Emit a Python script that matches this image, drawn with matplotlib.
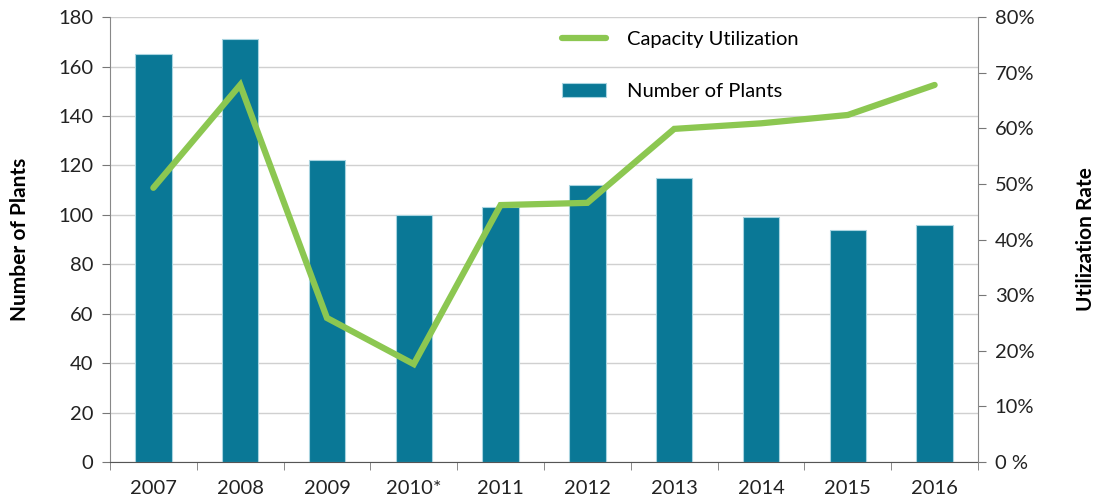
import numpy as np
import matplotlib
matplotlib.use('Agg')
import matplotlib.pyplot as plt
from matplotlib.ticker import FixedLocator, NullFormatter

plt.rcParams['font.family'] = ['Lato', 'DejaVu Sans']

years = ['2007', '2008', '2009', '2010*', '2011', '2012', '2013', '2014', '2015', '2016']
plants = [165, 171, 122, 100, 103, 112, 115, 99, 94, 96]
utilization = [49.3, 67.8, 25.9, 17.6, 46.2, 46.6, 59.9, 60.9, 62.4, 67.8]

bar_color = '#0a7896'
line_color = '#8cc751'

fig = plt.figure(figsize=(10.94, 5.03), dpi=100)
ax = fig.add_axes([0.1005, 0.0815, 0.7935, 0.8845])
x = np.arange(len(years))

ax.bar(x, plants, width=0.42, color=bar_color, edgecolor='#a8d4e0', linewidth=0.8,
       label='Number of Plants', zorder=2)
ax.set_xlim(-0.5, len(years) - 0.5)
ax.set_ylim(0, 180)
ax.set_yticks(range(0, 181, 20))
ax.grid(axis='y', color='#d0d0d0', linewidth=1.0, zorder=0)
ax.set_axisbelow(True)

ax.set_xticks(x)
ax.set_xticklabels(years)
ax.tick_params(axis='x', length=0, pad=13, labelsize=14.5, labelcolor='#222222')
ax.xaxis.set_minor_locator(FixedLocator(np.arange(-0.5, len(years), 1.0)))
ax.xaxis.set_minor_formatter(NullFormatter())
ax.tick_params(axis='x', which='minor', length=6, color='#777777', direction='out')
ax.tick_params(axis='y', length=6, color='#777777', labelsize=14.5, pad=6,
               labelcolor='#222222')

for s in ['top', 'right']:
    ax.spines[s].set_visible(False)
ax.spines['left'].set_color('#888888')
ax.spines['bottom'].set_color('#555555')
ax.set_ylabel('Number of Plants', fontsize=15, fontweight='bold', labelpad=20)

ax2 = ax.twinx()
ax2.plot(x, utilization, color=line_color, linewidth=4.5, solid_capstyle='round',
         solid_joinstyle='miter', label='Capacity Utilization', zorder=3)
ax2.set_ylim(0, 80)
ax2.set_yticks(range(0, 81, 10))
ax2.set_yticklabels(['0 %'] + [f'{v}%' for v in range(10, 81, 10)])
ax2.tick_params(axis='y', length=6, color='#777777', labelsize=14.5, pad=6,
                labelcolor='#222222')
for s in ['top', 'left', 'bottom']:
    ax2.spines[s].set_visible(False)
ax2.spines['right'].set_color('#888888')
ax2.set_ylabel('Utilization Rate', fontsize=15, fontweight='bold', rotation=90, labelpad=30)
ax2.yaxis.set_label_position('right')

h1, l1 = ax2.get_legend_handles_labels()
h2, l2 = ax.get_legend_handles_labels()
leg = ax2.legend(h1 + h2, l1 + l2, loc='upper left', bbox_to_anchor=(0.5, 1.01),
                 frameon=False, fontsize=14.5, labelspacing=1.75, handlelength=2.2,
                 handletextpad=1.0)

fig.savefig('out.png', dpi=100)
